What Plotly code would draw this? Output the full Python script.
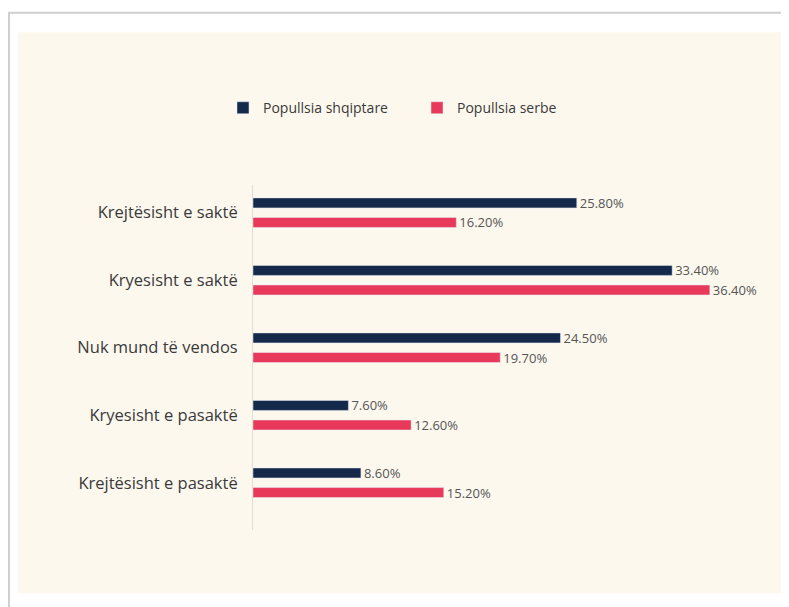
import plotly.graph_objects as go

categories = [
    "Krejtësisht e saktë",
    "Kryesisht e saktë",
    "Nuk mund të vendos",
    "Kryesisht e pasaktë",
    "Krejtësisht e pasaktë",
]
albanian = [25.8, 33.4, 24.5, 7.6, 8.6]
serbian = [16.2, 36.4, 19.7, 12.6, 15.2]

NAVY = "#15294a"
PINK = "#e8395a"
FONT = "'Open Sans', Lato, sans-serif"

fig = go.Figure()
fig.add_trace(go.Bar(
    y=categories, x=albanian, orientation="h", name="Popullsia shqiptare",
    marker_color=NAVY, text=[f"{v:.2f}%" for v in albanian],
    textposition="outside", cliponaxis=False, constraintext="none",
    textfont=dict(size=13, color="#555555"),
))
fig.add_trace(go.Bar(
    y=categories, x=serbian, orientation="h", name="Popullsia serbe",
    marker_color=PINK, text=[f"{v:.2f}%" for v in serbian],
    textposition="outside", cliponaxis=False, constraintext="none",
    textfont=dict(size=13, color="#555555"),
))

# plot area: x 245..747 px, y 177..522 px (page adds an 8px body margin)
fig.update_layout(
    width=789, height=607,
    margin=dict(l=245, r=42, t=177, b=85),
    paper_bgcolor="white",
    plot_bgcolor="rgba(0,0,0,0)",
    font=dict(family=FONT, color="#3a3a3a"),
    barmode="group",
    bargap=0.42,
    bargroupgap=0.49,
    showlegend=True,
    legend=dict(
        orientation="h", x=0.2725, xref="container", xanchor="left",
        y=0.835, yref="container", yanchor="middle",
        bgcolor="rgba(0,0,0,0)",
        font=dict(size=14, color="#3a3a3a"),
        entrywidth=149, entrywidthmode="pixels",
        traceorder="normal",
    ),
    xaxis=dict(range=[0, 40], visible=False, fixedrange=True),
    yaxis=dict(
        categoryorder="array", categoryarray=categories,
        range=[4.7, -0.41], showgrid=False, zeroline=False,
        showline=True, linecolor="#e3ded3", linewidth=1,
        ticks="outside", ticklen=11, tickcolor="rgba(0,0,0,0)",
        tickfont=dict(size=16.5, color="#3a3a3a"),
    ),
    shapes=[
        # white card with a grey edge
        dict(type="rect", xref="paper", yref="paper", layer="below",
             x0=-0.486, x1=1.2, y0=-0.3, y1=1.499,
             fillcolor="white", line=dict(color="#cfcfcf", width=2)),
        # cream panel
        dict(type="rect", xref="paper", yref="paper", layer="below",
             x0=-0.468, x1=1.062, y0=-0.183, y1=1.443,
             fillcolor="#fcf8ee", line=dict(width=0)),
    ],
)

fig.write_html("out.html")
